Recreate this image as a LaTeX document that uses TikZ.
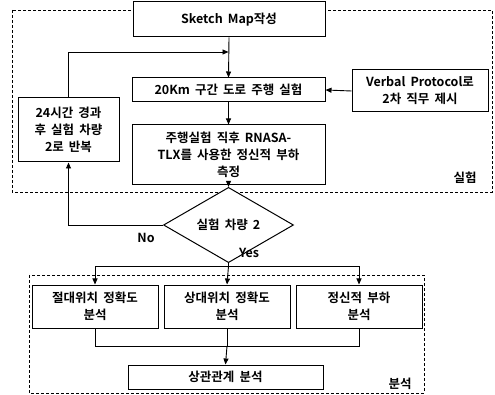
\documentclass[tikz,border=0pt]{standalone}
\usepackage{fontspec}
\setmainfont{Noto Sans CJK KR}[BoldFont={Noto Sans CJK KR Bold},WordSpace=1.8]
\usetikzlibrary{shapes.geometric,arrows.meta,calc}
\begin{document}
\begin{tikzpicture}[x=1pt,y=-1pt,
  box/.style={draw,line width=1pt,inner sep=1pt,align=center,font=\fontsize{12.5}{17}\selectfont\bfseries},
  conn/.style={line width=0.9pt},
  arr/.style={conn,-{Triangle[length=6pt,width=5pt]}},
  region/.style={draw,line width=0.6pt,dash pattern=on 3pt off 2pt},
  lbl/.style={font=\fontsize{12.5}{15}\selectfont\bfseries}]
\useasboundingbox (0,0) rectangle (495,395);
% regions
\draw[region] (12,10) rectangle (492,192);
\draw[region] (29,275) rectangle (424,393);
% nodes
\node[box,fill=white,minimum width=192pt,minimum height=35pt] (sk) at (229,19.5) {Sketch Map작성};
\node[box,minimum width=193pt,minimum height=24pt] (dr) at (228.5,90) {20Km 구간 도로 주행 실험};
\node[box,minimum width=136pt,minimum height=42pt] (vp) at (420,91) {Verbal Protocol로\\2차 직무 제시};
\node[box,minimum width=193pt,minimum height=60pt] (ms) at (228.5,155) {주행실험 직후 RNASA-\\TLX를 사용한 정신적 부하\\측정};
\node[box,minimum width=101pt,minimum height=64pt] (rp) at (68.5,130) {24시간 경과\\후 실험 차량\\2로 반복};
\node[box,diamond,fill=white,inner sep=0pt,minimum width=130pt,minimum height=36pt] (dm) at (228.5,225) {실험 차량 2};
\node[box,minimum width=126pt,minimum height=43pt] (ab) at (95,306.5) {절대위치 정확도\\분석};
\node[box,minimum width=126pt,minimum height=43pt] (re) at (227,306.5) {상대위치 정확도\\분석};
\node[box,minimum width=126pt,minimum height=43pt] (mw) at (359,306.5) {정신적 부하\\분석};
\node[box,minimum width=195pt,minimum height=24pt] (co) at (225.5,377) {상관관계 분석};
% labels
\node[lbl] (l1) at (465,178) {실험};
\node[lbl] (l2) at (400,384) {분석};
\node[lbl] (no) at (146,238) {No};
\node[lbl] (yes) at (249,253) {Yes};
% coordinates
\coordinate (fb) at (228.5,52);
\coordinate (sp) at (228.5,266);
\coordinate (mg) at (227,346);
% connectors
\draw[arr] (sk.south) -- (dr.north);
\draw[arr] (rp.north) |- (fb);
\draw[arr] (vp.west) -- (dr.east);
\draw[arr] (dr.south) -- (ms.north);
\draw[arr] (ms.south) -- (dm.north);
\draw[arr] (dm.west) -| (rp.south);
\draw[conn] (dm.south) -- (sp);
\draw[arr] (sp) -| (ab.north);
\draw[arr] (sp) -| (mw.north);
\draw[arr] (sp) -- (re.north);
\draw[conn] (ab.south) |- (mg);
\draw[conn] (mw.south) |- (mg);
\draw[conn] (re.south) -- (mg);
\draw[arr] (mg) -- (co.north);
\end{tikzpicture}
\end{document}
